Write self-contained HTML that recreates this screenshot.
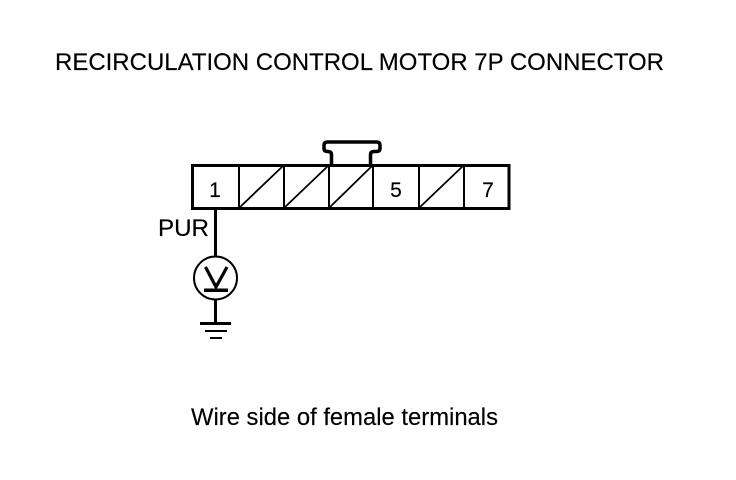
<!DOCTYPE html>
<html>
<head>
<meta charset="utf-8">
<style>
html,body{margin:0;padding:0;background:#fff;width:736px;height:480px;overflow:hidden}
svg{display:block}
text{font-family:"Liberation Sans",sans-serif;fill:#000;stroke:#000;stroke-width:.15}
</style>
</head>
<body>
<svg width="736" height="480" viewBox="0 0 736 480" xmlns="http://www.w3.org/2000/svg">
<rect width="736" height="480" fill="#fff"/>
<text x="55" y="70" font-size="24" textLength="609" lengthAdjust="spacingAndGlyphs">RECIRCULATION CONTROL MOTOR 7P CONNECTOR</text>
<!-- latch -->
<path d="M331.500 165V155Q331.500 151.500 328 151.500H327.500Q324 151.500 324 148V145.500Q324 142 327.500 142H376.500Q380 142 380 145.500V148Q380 151.500 376.500 151.500H374Q370.500 151.500 370.500 155V165" fill="none" stroke="#000" stroke-width="3.500"/>
<!-- connector body -->
<rect x="192.500" y="165.500" width="316.500" height="43" fill="none" stroke="#000" stroke-width="3" shape-rendering="crispEdges"/>
<g stroke="#000" stroke-width="2" fill="none" shape-rendering="crispEdges">
<path d="M239 165V208M284 165V208M329 165V208M373 165V208M419 165V208M464 165V208"/>
</g>
<g stroke="#000" stroke-width="1.800" fill="none">
<path d="M239 208L284 165M284 208L329 165M329 208L373 165M419 208L464 165"/>
</g>
<text x="215" y="197" font-size="21" text-anchor="middle">1</text>
<text x="396" y="197" font-size="21" text-anchor="middle">5</text>
<text x="488" y="197" font-size="21" text-anchor="middle">7</text>
<text x="158" y="236" font-size="24" textLength="51" lengthAdjust="spacingAndGlyphs">PUR</text>
<!-- wire -->
<path d="M215.500 208V258M215.500 298V323" stroke="#000" stroke-width="3" fill="none" shape-rendering="crispEdges"/>
<!-- voltmeter -->
<circle cx="215.500" cy="278" r="21.500" fill="#fff" stroke="#000" stroke-width="2"/>
<path d="M205.500 267L216 287L227 267" fill="none" stroke="#000" stroke-width="3.200"/>
<path d="M204 290H228" stroke="#000" stroke-width="3.500" fill="none" shape-rendering="crispEdges"/>
<!-- ground -->
<path d="M200 323.500H231" stroke="#000" stroke-width="3" fill="none" shape-rendering="crispEdges"/>
<path d="M205 331H227" stroke="#000" stroke-width="2" fill="none" shape-rendering="crispEdges"/>
<path d="M210 338H222" stroke="#000" stroke-width="2" fill="none" shape-rendering="crispEdges"/>
<text x="191" y="425" font-size="24" textLength="307" lengthAdjust="spacingAndGlyphs">Wire side of female terminals</text>
</svg>
</body>
</html>
